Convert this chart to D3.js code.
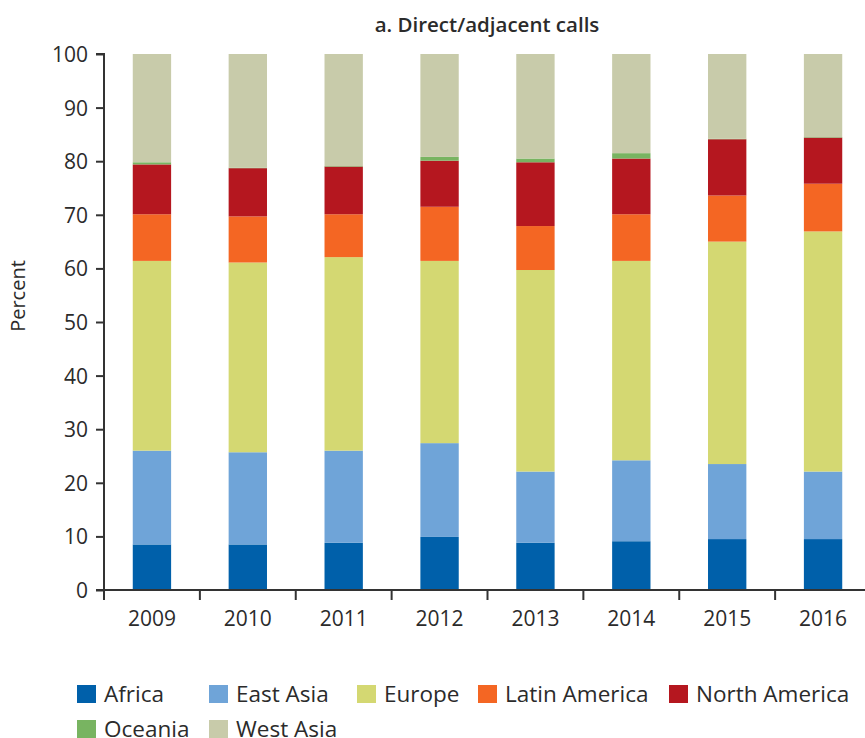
<!DOCTYPE html>
<html><head><meta charset="utf-8">
<script src="https://cdn.jsdelivr.net/npm/d3@7"></script>
<style>body{margin:0;background:#fff}svg{display:block}text{font-family:"Open Sans",sans-serif;fill:#2b2b2b}</style>
</head><body>
<script>
const years = ["2009","2010","2011","2012","2013","2014","2015","2016"];
const regions = ["Africa","East Asia","Europe","Latin America","North America","Oceania","West Asia"];
const colors = ["#0060aa","#6fa4d8","#d4d872","#f46623","#b5171f","#78b461","#c8cbaa"];
const africa       = [8.5, 8.5, 8.8, 9.9, 8.8, 9.1, 9.5, 9.5];
const eastAsia     = [17.5,17.2,17.2,17.5,13.3,15.1,14.0,12.6];
const europe       = [35.4,35.4,36.1,34.0,37.6,37.2,41.5,44.8];
const latinAmerica = [8.7, 8.6, 8.0, 10.1,8.2, 8.7, 8.6, 8.9];
const northAmerica = [9.3, 9.0, 8.9, 8.6, 11.9,10.4,10.5,8.6];
const oceania      = [0.4, 0.1, 0.1, 0.7, 0.7, 1.0, 0.1, 0.1];
const westAsia     = [20.2,21.2,20.9,19.2,19.5,18.5,15.8,15.5];
const yTicks = [0,10,20,30,40,50,60,70,80,90,100];

const seriesVals = [africa,eastAsia,europe,latinAmerica,northAmerica,oceania,westAsia];
const rows = years.map((y,i)=>{const o={year:y}; regions.forEach((r,j)=>o[r]=seriesVals[j][i]); return o;});

const W=865,H=738;
const svg=d3.select("body").append("svg").attr("width",W).attr("height",H);
const x=d3.scaleBand().domain(years).range([104,871]).paddingInner(0.6).paddingOuter(0.3);
const y=d3.scaleLinear().domain([0,100]).range([590,54]);
const color=d3.scaleOrdinal().domain(regions).range(colors);

const stack=d3.stack().keys(regions)(rows);
svg.append("g").selectAll("g").data(stack).join("g").attr("fill",d=>color(d.key))
  .selectAll("rect").data(d=>d).join("rect")
  .attr("x",d=>x(d.data.year)).attr("width",x.bandwidth())
  .attr("y",d=>y(d[1])).attr("height",d=>y(d[0])-y(d[1]));

// y axis
const ya=svg.append("g").attr("transform","translate(104,0)")
  .call(d3.axisLeft(y).tickValues(yTicks).tickSize(8).tickPadding(8));
ya.select(".domain").attr("stroke","#333").attr("stroke-width",2).attr("d","M-8,54H0V590H-8");
ya.selectAll(".tick line").attr("stroke","#333").attr("stroke-width",2);
ya.selectAll(".tick text").attr("font-size",21).attr("dy","0.36em").style("font-family","'Open Sans',sans-serif").attr("fill","#2b2b2b");

// x axis
const xa=svg.append("g").attr("transform","translate(0,590)");
xa.append("line").attr("x1",104).attr("x2",871).attr("y1",0).attr("y2",0).attr("stroke","#333").attr("stroke-width",2);
const step=x.step();
const bounds=d3.range(years.length+1).map(i=>104+i*step);
xa.selectAll("line.t").data(bounds).join("line").attr("class","t")
  .attr("x1",d=>d).attr("x2",d=>d).attr("y1",0).attr("y2",10).attr("stroke","#333").attr("stroke-width",2);
xa.selectAll("text").data(years).join("text")
  .attr("x",d=>x(d)+x.bandwidth()/2).attr("y",36).attr("text-anchor","middle").attr("font-size",21).text(d=>d);

// titles
svg.append("text").attr("x",487).attr("y",32).attr("text-anchor","middle").attr("font-size",20.5).attr("font-weight",600).text("a. Direct/adjacent calls");
svg.append("text").attr("transform","translate(25,296) rotate(-90)").attr("text-anchor","middle").attr("font-size",20).text("Percent");

// legend
const legX=[77,209,357,478,669,77,209], legY=[685,685,685,685,685,720,720];
const lg=svg.append("g").selectAll("g").data(regions).join("g")
  .attr("transform",(d,i)=>`translate(${legX[i]},${legY[i]})`);
lg.append("rect").attr("width",19).attr("height",18).attr("fill",d=>color(d));
lg.append("text").attr("x",27).attr("y",17).attr("font-size",22.5).text(d=>d);
</script>
</body></html>
